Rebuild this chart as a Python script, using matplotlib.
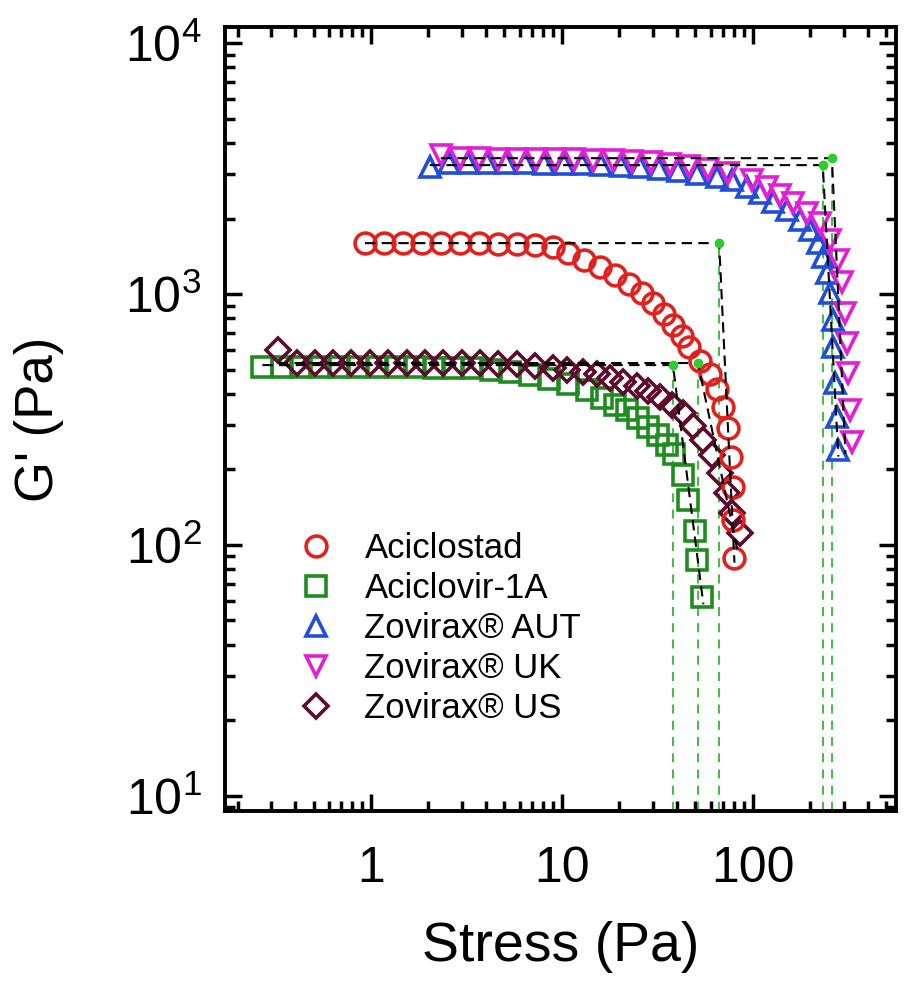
import matplotlib
matplotlib.use('Agg')
import matplotlib.pyplot as plt
from matplotlib.ticker import LogLocator, FixedLocator, FixedFormatter, NullFormatter, LogFormatterMathtext

plt.rcParams['font.family'] = ['Liberation Sans', 'DejaVu Sans']
plt.rcParams['mathtext.fontset'] = 'custom'
plt.rcParams['mathtext.rm'] = 'Liberation Sans'
plt.rcParams['mathtext.it'] = 'Liberation Sans:italic'
plt.rcParams['mathtext.bf'] = 'Liberation Sans:bold'

# ---------------- data ----------------
labels = ['Aciclostad', 'Aciclovir-1A', 'Zovirax® AUT', 'Zovirax® UK', 'Zovirax® US']

circ_x = [0.93, 1.17, 1.47, 1.85, 2.32, 2.92, 3.68, 4.62, 5.81, 7.22, 8.97, 10.7, 13.0, 15.8, 18.9,
          22.4, 26.2, 29.9, 34.2, 38.1, 42.5, 46.2, 52.8, 59.6, 64.8, 69.6, 74.0, 77.0, 78.5, 79.0, 79.5]
circ_y = [1596, 1596, 1596, 1596, 1596, 1596, 1593, 1590, 1585, 1570, 1540, 1460, 1370, 1280, 1190,
          1100, 1010, 920, 830, 750, 680, 615, 540, 478, 420, 355, 292, 224, 170, 126, 89]

sq_x = [0.27, 0.34, 0.43, 0.54, 0.68, 0.85, 1.07, 1.35, 1.70, 2.14, 2.69, 3.39, 4.27, 5.37, 6.76,
        8.5, 10.7, 13.5, 16.2, 18.9, 21.9, 25.0, 28.2, 31.8, 35.5, 38.6, 43.0, 45.7, 49.7, 50.9, 54.1]
sq_y = [512, 512, 512, 512, 512, 511, 511, 510, 510, 509, 508, 505, 500, 490, 476,
        460, 438, 415, 386, 362, 345, 321, 295, 274, 250, 230, 190, 151, 114, 87, 62]

blu_x = [2.03, 2.56, 3.22, 4.05, 5.10, 6.42, 8.08, 10.2, 12.8, 16.1, 20.3, 25.5, 32.1, 40.5, 50.9,
         64.8, 77.6, 93, 109, 127, 151, 176, 199, 219, 232, 244, 253, 262, 264, 269, 275, 279]
blu_y = [3200, 3330, 3335, 3330, 3325, 3320, 3310, 3300, 3290, 3270, 3250, 3210, 3160, 3090, 3010,
         2924, 2844, 2667, 2523, 2326, 2162, 1972, 1800, 1596, 1403, 1213, 1008, 788, 615, 442, 323, 239]

mag_x = [2.32, 2.92, 3.68, 4.63, 5.83, 7.34, 9.24, 11.6, 14.6, 18.4, 23.2, 29.2, 36.8, 46.3, 58.3,
         74.0, 98.8, 118, 138, 162, 192, 224, 253, 279, 292, 303, 311, 314, 322, 330]
mag_y = [3580, 3480, 3470, 3465, 3460, 3455, 3450, 3440, 3430, 3420, 3390, 3350, 3300, 3240, 3160,
         3040, 2860, 2667, 2477, 2305, 2103, 1918, 1641, 1366, 1116, 840, 638, 485, 345, 257]

dia_x = [0.325, 0.41, 0.51, 0.63, 0.79, 0.99, 1.23, 1.54, 1.92, 2.38, 2.99, 3.72, 4.62, 5.81, 7.2,
         8.97, 10.6, 12.9, 15.3, 17.8, 20.9, 24.7, 28.2, 32.6, 37.7, 43.0, 48.5, 54.7, 61.0, 67.2,
         73.1, 77.7, 85.5]
dia_y = [600, 530, 531, 532, 532, 532, 532, 532, 532, 531, 531, 530, 528, 524, 517,
         508, 500, 490, 478, 464, 448, 430, 410, 388, 362, 336, 298, 262, 228, 193,
         161, 134, 112]

# model fits: plateau start, yield point, end of drop
fit_circ_x = [0.93, 66.5, 80.0];  fit_circ_y = [1596, 1596, 85]
fit_sq_x = [0.27, 38.1, 55.0];    fit_sq_y = [521, 521, 58]
fit_blu_x = [2.03, 232, 280];     fit_blu_y = [3265, 3265, 225]
fit_mag_x = [2.32, 259, 305];     fit_mag_y = [3480, 3480, 230]
fit_dia_x = [0.325, 51.5, 83.0];  fit_dia_y = [531, 531, 95]

# yield points (green dots)
yield_x = [66.5, 38.1, 232, 259, 51.5]
yield_y = [1596, 521, 3265, 3480, 531]

x_major = [1, 10, 100]
x_major_labels = ['1', '10', '100']
y_major = [10, 100, 1000, 10000]

# ---------------- figure ----------------
fig = plt.figure(figsize=(9.06, 9.85), dpi=100)
ax = fig.add_axes([225/906, 1 - 811/985, 671/906, 784/985])
ax.set_xscale('log')
ax.set_yscale('log')
ylim = (8.7, 11600)
ax.set_xlim(0.172, 561)
ax.set_ylim(*ylim)

colors = ['#e0221e', '#1f8c1f', '#1f4fd6', '#e21fd6', '#5e0c2e']
markers = ['o', 's', '^', 'v', 'D']
sizes = [15, 14, 15, 15, 12]
series = [(circ_x, circ_y), (sq_x, sq_y), (blu_x, blu_y), (mag_x, mag_y), (dia_x, dia_y)]
order = [1, 4, 0, 2, 3]
handles = [None] * 5
for i in order:
    xs, ys = series[i]
    h, = ax.plot(xs, ys, linestyle='none', marker=markers[i], ms=sizes[i],
                 mfc='none', mec=colors[i], mew=2.6, label=labels[i], zorder=3)
    handles[i] = h

fits = [(fit_circ_x, fit_circ_y), (fit_sq_x, fit_sq_y), (fit_blu_x, fit_blu_y),
        (fit_mag_x, fit_mag_y), (fit_dia_x, fit_dia_y)]
green = '#33b833'
for (fx, fy), yx, yy in zip(fits, yield_x, yield_y):
    ax.plot(fx, fy, color='black', lw=1.5, dashes=(5, 3), zorder=4)
    ax.plot([yx, yx], [ylim[0], yy], color=green, lw=1.3, dashes=(5, 4), zorder=2)
ax.plot(yield_x, yield_y, linestyle='none', marker='o', ms=6, color='#2ecc2e', zorder=5)

# ticks
ax.xaxis.set_major_locator(FixedLocator(x_major))
ax.xaxis.set_major_formatter(FixedFormatter(x_major_labels))
ax.xaxis.set_minor_locator(LogLocator(base=10, subs=[2, 3, 4, 5, 6, 7, 8, 9], numticks=20))
ax.xaxis.set_minor_formatter(NullFormatter())
ax.yaxis.set_major_locator(FixedLocator(y_major))
ax.yaxis.set_major_formatter(LogFormatterMathtext())
ax.yaxis.set_minor_locator(LogLocator(base=10, subs=[2, 3, 4, 5, 6, 7, 8, 9], numticks=20))
ax.yaxis.set_minor_formatter(NullFormatter())

ax.tick_params(which='both', direction='in', top=True, right=True, width=2.5, colors='black')
ax.tick_params(which='major', length=12)
ax.tick_params(which='minor', length=7)
ax.tick_params(axis='x', which='major', labelsize=36, pad=25)
ax.tick_params(axis='y', which='major', labelsize=36, pad=17)
for s in ax.spines.values():
    s.set_linewidth(2.8)

ax.set_xlabel('Stress (Pa)', fontsize=40)
ax.set_ylabel("G' (Pa)", fontsize=38)
ax.xaxis.set_label_coords(0.5, -0.14)
ax.yaxis.set_label_coords(-0.24, 0.5)

ax.legend(handles=handles, loc='upper left', bbox_to_anchor=(0.1095, 0.356),
          frameon=False, fontsize=25, handlelength=1.0, handletextpad=0.9,
          labelspacing=0.2, borderpad=0, borderaxespad=0, numpoints=1)

fig.savefig('out.png', dpi=100)
